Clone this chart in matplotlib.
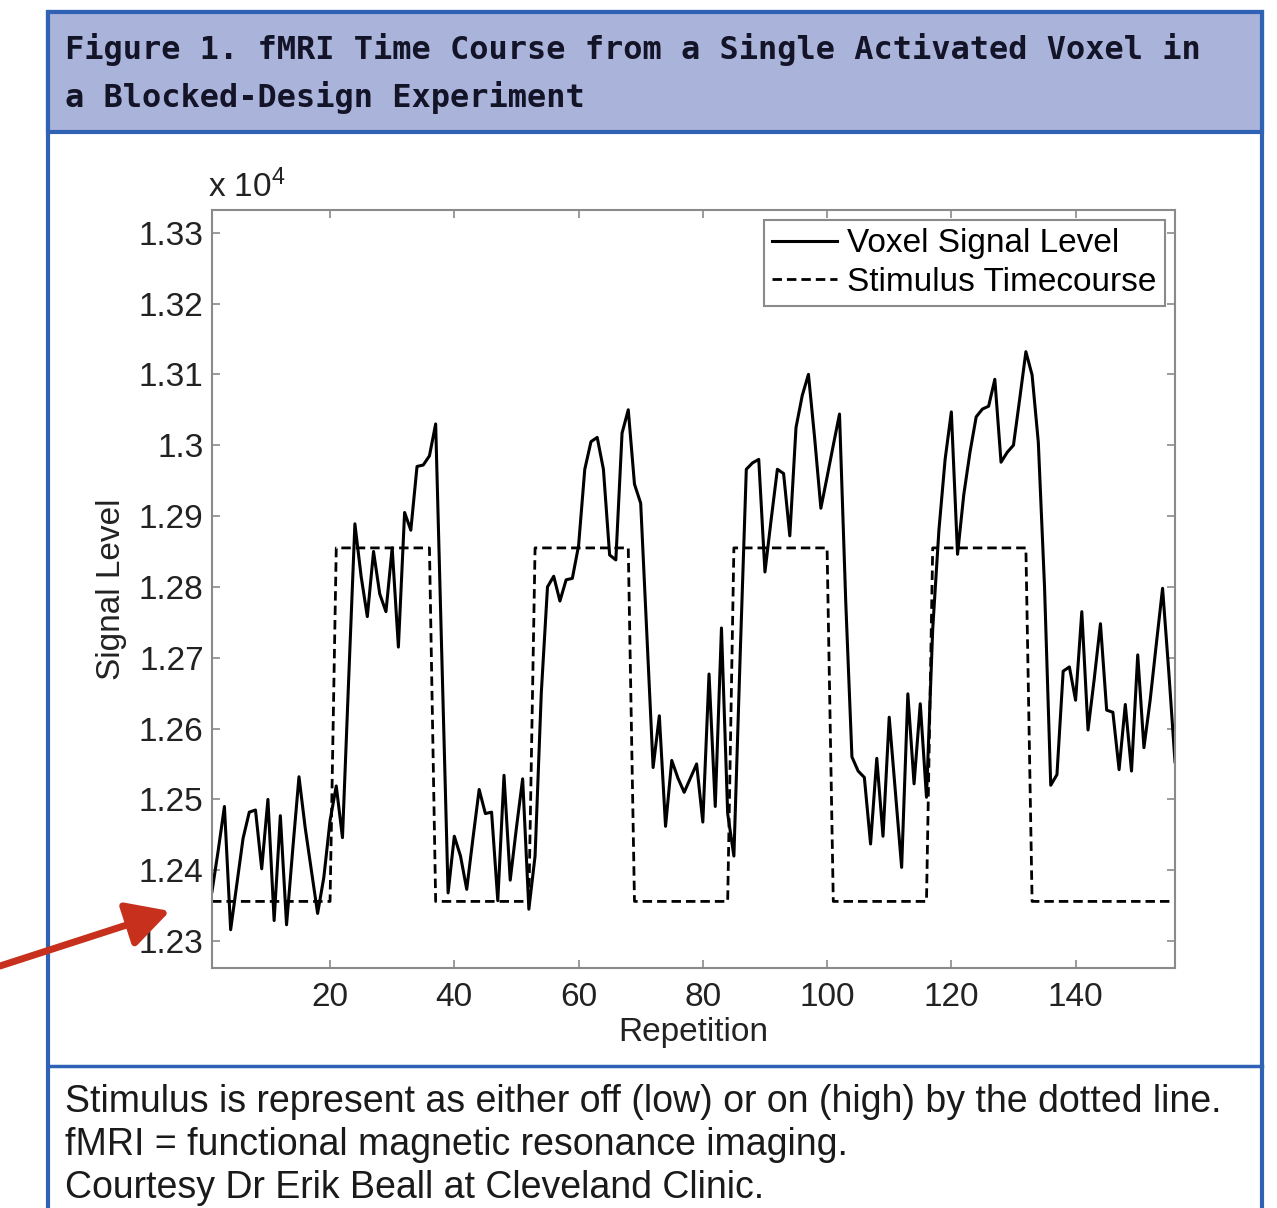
import matplotlib
matplotlib.use("Agg")
import matplotlib.pyplot as plt
from matplotlib.patches import Rectangle, FancyArrowPatch
from matplotlib.lines import Line2D
from matplotlib.ticker import FuncFormatter

W, H = 1277, 1208

# voxel signal, one value per repetition (1..156)
repetition = list(range(1, 157))
signal_level = [
    12370, 12428, 12490, 12316, 12380, 12445, 12482, 12485, 12402, 12500,
    12329, 12477, 12323, 12430, 12532, 12460, 12400, 12339, 12390, 12470,
    12519, 12446, 12670, 12889, 12815, 12758, 12850, 12790, 12765, 12855,
    12715, 12905, 12880, 12970, 12972, 12985, 13030, 12700, 12368, 12448,
    12420, 12373, 12445, 12514, 12480, 12482, 12357, 12534, 12386, 12460,
    12529, 12345, 12420, 12650, 12800, 12815, 12780, 12810, 12812, 12858,
    12966, 13005, 13011, 12966, 12845, 12838, 13017, 13050, 12945, 12918,
    12730, 12545, 12618, 12462, 12555, 12530, 12510, 12530, 12550, 12468,
    12677, 12490, 12742, 12480, 12420, 12700, 12966, 12975, 12980, 12821,
    12895, 12966, 12960, 12872, 13025, 13070, 13100, 13010, 12911, 12955,
    13000, 13044, 12780, 12560, 12540, 12531, 12437, 12558, 12448, 12616,
    12510, 12404, 12649, 12522, 12635, 12503, 12740, 12880, 12980, 13047,
    12846, 12930, 12990, 13040, 13051, 13055, 13093, 12976, 12990, 13000,
    13065, 13132, 13099, 13004, 12800, 12520, 12535, 12681, 12687, 12640,
    12765, 12598, 12670, 12748, 12626, 12623, 12542, 12634, 12540, 12704,
    12573, 12640, 12720, 12798, 12680, 12553,
]

# stimulus timecourse: off (low) / on (high) block corners
stim_repetition = [1, 20, 21, 36, 37, 52, 53, 68, 69, 84, 85, 100, 101, 116, 117, 132, 133, 156]
stim_level = [12356, 12356, 12855, 12855, 12356, 12356, 12855, 12855, 12356,
              12356, 12855, 12855, 12356, 12356, 12855, 12855, 12356, 12356]

x_ticks = [20, 40, 60, 80, 100, 120, 140]
y_ticks = [12300, 12400, 12500, 12600, 12700, 12800, 12900, 13000, 13100, 13200, 13300]

title_lines = ["Figure 1. fMRI Time Course from a Single Activated Voxel in",
               "a Blocked-Design Experiment"]
caption_lines = ["Stimulus is represent as either off (low) or on (high) by the dotted line.",
                 "fMRI = functional magnetic resonance imaging.",
                 "Courtesy Dr Erik Beall at Cleveland Clinic."]

BLUE = "#2f62b5"
HEADER = "#aab4da"
RED = "#c8301e"
FS = 24


def fx(x):
    return x / W


def fy(y):
    return 1 - y / H


def draw_panel(fig):
    """
    Blue framed box with the header band and the caption separator.
    """
    fig.patches.append(Rectangle((fx(48), fy(1230)), fx(1262) - fx(48), fy(12) - fy(1230),
                                 transform=fig.transFigure, fill=False,
                                 edgecolor=BLUE, lw=3, zorder=0))
    fig.patches.append(Rectangle((fx(48), fy(132)), fx(1262) - fx(48), fy(12) - fy(132),
                                 transform=fig.transFigure, facecolor=HEADER,
                                 edgecolor=BLUE, lw=3, zorder=0))
    fig.lines.append(Line2D([fx(48), fx(1262)], [fy(1066), fy(1066)],
                            transform=fig.transFigure, color=BLUE, lw=2.5))

    for i, line in enumerate(title_lines):
        fig.text(fx(65), fy(50 + 48 * i), line, family="DejaVu Sans Mono",
                 weight="bold", fontsize=23, va="center", color="#141428")

    for i, line in enumerate(caption_lines):
        fig.text(fx(65), fy(1102 + 43 * i), line,
                 family=["Liberation Sans Narrow", "Liberation Sans"],
                 fontsize=27, va="center", color="#1a1a1a")


def main():
    plt.rcParams["font.family"] = ["Liberation Sans", "DejaVu Sans"]
    plt.rcParams["mathtext.default"] = "regular"

    fig = plt.figure(figsize=(W / 100, H / 100), dpi=100)
    draw_panel(fig)

    ax = fig.add_axes([fx(212), fy(968), fx(1175) - fx(212), fy(210) - fy(968)])
    ax.plot(repetition, signal_level, color="black", lw=2.2,
            label="Voxel Signal Level")
    ax.plot(stim_repetition, stim_level, color="black", lw=2.0,
            dashes=(3.4, 1.8), label="Stimulus Timecourse")

    ax.set_xlim(1, 156)
    ax.set_ylim(12262, 13332)
    ax.set_xticks(x_ticks)
    ax.set_yticks(y_ticks)
    ax.yaxis.set_major_formatter(FuncFormatter(lambda v, p: f"{v / 1e4:g}"))
    ax.tick_params(direction="in", length=6, width=1.2, top=True, right=True,
                   color="#8a8a8a", labelcolor="#222222", labelsize=FS, pad=6)
    ax.tick_params(axis="x", pad=10)
    for s in ax.spines.values():
        s.set_color("#8a8a8a")
        s.set_linewidth(1.5)

    ax.set_xlabel("Repetition", fontsize=FS, color="#222222")
    ax.set_ylabel("Signal Level", fontsize=FS, color="#222222")
    ax.xaxis.set_label_coords(0.5, -0.064)
    ax.yaxis.set_label_coords(-0.088, 0.5)

    fig.text(fx(208), fy(187), r"x 10$^{4}$", fontsize=FS, va="center",
             color="#222222")

    leg = ax.legend(loc="upper right", fontsize=FS, frameon=True, fancybox=False,
                    edgecolor="#8a8a8a", framealpha=1, handlelength=1.95,
                    borderaxespad=0.3, borderpad=0.25, labelspacing=0.22,
                    handletextpad=0.3)
    leg.get_frame().set_linewidth(1.5)

    arrow = FancyArrowPatch((fx(0), fy(966)), (fx(170), fy(911)),
                            transform=fig.transFigure,
                            arrowstyle="-|>,head_length=2.6,head_width=1.4",
                            mutation_scale=10, color=RED, lw=5,
                            shrinkA=0, shrinkB=0)
    fig.patches.append(arrow)

    fig.savefig("out.png", dpi=100)


if __name__ == "__main__":
    main()
